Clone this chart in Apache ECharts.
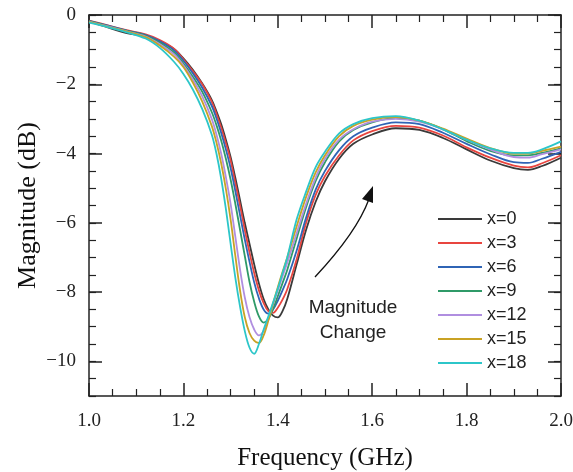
<!DOCTYPE html>
<html>
<head>
<meta charset="utf-8">
<script src="https://cdn.jsdelivr.net/npm/echarts@6/dist/echarts.min.js"></script>
<style>
  html, body { margin: 0; padding: 0; background: #fff; }
  #main { width: 573px; height: 472px; }
</style>
</head>
<body>
<div id="main"></div>
<script>
// frequency grid (GHz)
const freq = [1.00, 1.04, 1.08, 1.12, 1.15, 1.18, 1.20, 1.22, 1.24, 1.26, 1.27, 1.28, 1.29, 1.30, 1.31, 1.32, 1.33, 1.34, 1.35, 1.36, 1.37, 1.38, 1.39, 1.40, 1.41, 1.42, 1.44, 1.46, 1.48, 1.50, 1.53, 1.56, 1.60, 1.65, 1.70, 1.75, 1.80, 1.85, 1.90, 1.93, 1.96, 2.00];

// magnitude (dB) per x value
const magX0 = [-0.18, -0.36, -0.52, -0.62, -0.76, -0.98, -1.25, -1.58, -1.98, -2.45, -2.78, -3.15, -3.60, -4.10, -4.70, -5.35, -6.00, -6.60, -7.20, -7.75, -8.20, -8.50, -8.68, -8.73, -8.55, -8.20, -7.20, -6.20, -5.40, -4.80, -4.15, -3.72, -3.45, -3.27, -3.32, -3.55, -3.88, -4.20, -4.42, -4.47, -4.36, -4.12];
const magX3 = [-0.16, -0.30, -0.44, -0.56, -0.72, -0.97, -1.28, -1.62, -2.00, -2.50, -2.85, -3.25, -3.70, -4.20, -4.85, -5.50, -6.20, -6.85, -7.45, -7.95, -8.32, -8.55, -8.60, -8.45, -8.22, -7.92, -7.05, -6.00, -5.20, -4.65, -4.05, -3.62, -3.35, -3.20, -3.25, -3.48, -3.82, -4.12, -4.35, -4.40, -4.28, -4.05];
const magX6 = [-0.17, -0.31, -0.45, -0.58, -0.76, -1.02, -1.32, -1.68, -2.10, -2.62, -2.98, -3.40, -3.88, -4.42, -5.08, -5.78, -6.48, -7.12, -7.72, -8.18, -8.50, -8.62, -8.50, -8.25, -7.95, -7.62, -6.80, -5.85, -5.05, -4.50, -3.90, -3.50, -3.25, -3.10, -3.15, -3.40, -3.72, -4.02, -4.25, -4.27, -4.15, -3.95];
const magX9 = [-0.18, -0.32, -0.46, -0.60, -0.80, -1.08, -1.40, -1.78, -2.22, -2.80, -3.18, -3.62, -4.15, -4.75, -5.45, -6.20, -6.95, -7.70, -8.28, -8.70, -8.88, -8.78, -8.48, -8.12, -7.74, -7.36, -6.45, -5.55, -4.80, -4.25, -3.65, -3.32, -3.10, -2.98, -3.05, -3.30, -3.64, -3.92, -4.05, -4.05, -3.98, -3.85];
const magX12 = [-0.19, -0.33, -0.47, -0.62, -0.84, -1.13, -1.45, -1.86, -2.35, -3.00, -3.45, -4.00, -4.68, -5.45, -6.40, -7.35, -8.15, -8.72, -9.08, -9.25, -9.12, -8.78, -8.36, -7.95, -7.55, -7.15, -6.30, -5.45, -4.70, -4.15, -3.60, -3.30, -3.08, -3.00, -3.08, -3.30, -3.60, -3.88, -4.10, -4.12, -4.02, -3.88];
const magX15 = [-0.20, -0.34, -0.48, -0.64, -0.88, -1.20, -1.50, -1.95, -2.50, -3.20, -3.68, -4.28, -5.02, -5.90, -6.95, -7.95, -8.72, -9.18, -9.40, -9.47, -9.25, -8.82, -8.32, -7.86, -7.42, -7.00, -6.10, -5.25, -4.55, -4.05, -3.50, -3.20, -3.02, -2.95, -3.05, -3.28, -3.57, -3.84, -4.00, -4.00, -3.92, -3.80];
const magX18 = [-0.22, -0.35, -0.50, -0.68, -0.95, -1.35, -1.70, -2.15, -2.72, -3.45, -4.00, -4.72, -5.60, -6.60, -7.58, -8.42, -9.12, -9.60, -9.78, -9.50, -9.08, -8.70, -8.30, -7.90, -7.45, -7.00, -5.90, -5.10, -4.40, -3.95, -3.42, -3.15, -2.98, -2.92, -3.05, -3.30, -3.60, -3.85, -3.98, -3.98, -3.88, -3.65];

const seriesNames = ['x=0', 'x=3', 'x=6', 'x=9', 'x=12', 'x=15', 'x=18'];
const seriesData = [magX0, magX3, magX6, magX9, magX12, magX15, magX18];
const colors = ['#3a3a3a', '#e8453f', '#2f64b5', '#2f9a68', '#b08ee0', '#c9a224', '#2cc6c9'];

// tick labels
const yMajorTicks = [-10, -8, -6, -4, -2, 0];

const chart = echarts.init(document.getElementById('main'));

const serif = 'Liberation Serif';
const sans = 'Liberation Sans';
const axisColor = '#222';

// x axis shared bits
const xBase = {
  type: 'value',
  min: 1.0,
  max: 2.0,
  interval: 0.2,
  axisLine: { show: true, onZero: false, lineStyle: { color: axisColor, width: 1.5 } },
  axisTick: { show: true, inside: true, length: 13, lineStyle: { color: axisColor, width: 1.5 } },
  minorTick: { show: true, splitNumber: 4, length: 7, lineStyle: { color: axisColor, width: 1.2 } },
  splitLine: { show: false }
};

// y axis: short ticks every 0.5
const yMinor = {
  type: 'value',
  min: -11,
  max: 0,
  interval: 0.5,
  axisLine: { show: true, onZero: false, lineStyle: { color: axisColor, width: 1.5 } },
  axisTick: { show: true, inside: true, length: 7, lineStyle: { color: axisColor, width: 1.2 } },
  axisLabel: { show: false },
  splitLine: { show: false }
};
// y axis: long ticks at even values
const yMajor = {
  type: 'value',
  min: -11,
  max: 0,
  axisLine: { show: false },
  axisTick: { show: true, inside: true, length: 13, customValues: yMajorTicks, lineStyle: { color: axisColor, width: 1.5 } },
  axisLabel: { show: false },
  splitLine: { show: false }
};

const option = {
  backgroundColor: '#fff',
  animation: false,
  color: colors,
  grid: { left: 89, right: 12, top: 15, bottom: 76, outerBoundsMode: 'none' },
  legend: {
    orient: 'vertical',
    left: 433,
    top: 205,
    icon: 'rect',
    itemWidth: 44,
    itemHeight: 2,
    itemGap: 6,
    textStyle: { fontFamily: sans, fontSize: 18, color: '#222', lineHeight: 18 },
    data: seriesNames
  },
  xAxis: [
    Object.assign({}, xBase, {
      position: 'bottom',
      name: 'Frequency (GHz)',
      nameLocation: 'middle',
      nameGap: 50,
      nameTextStyle: { fontFamily: serif, fontSize: 25, color: '#111' },
      axisLabel: {
        show: true, margin: 16, fontFamily: serif, fontSize: 19, color: '#222',
        formatter: v => v.toFixed(1)
      }
    }),
    Object.assign({}, xBase, { position: 'top', axisLabel: { show: false } })
  ],
  yAxis: [
    Object.assign({}, yMinor, {
      position: 'left',
      name: 'Magnitude (dB)',
      nameLocation: 'middle',
      nameGap: 48,
      nameTextStyle: { fontFamily: serif, fontSize: 26, color: '#111' }
    }),
    Object.assign({}, yMajor, {
      position: 'left',
      axisLabel: {
        show: true, margin: 13, customValues: yMajorTicks,
        fontFamily: serif, fontSize: 19, color: '#222',
        formatter: v => (v < 0 ? '\u2212' + Math.abs(v) : String(v))
      }
    }),
    Object.assign({}, yMinor, { position: 'right' }),
    Object.assign({}, yMajor, { position: 'right' })
  ],
  series: seriesNames.map((name, i) => ({
    name: name,
    type: 'line',
    xAxisIndex: 0,
    yAxisIndex: 0,
    smooth: 0.35,
    showSymbol: false,
    symbol: 'none',
    lineStyle: { width: 1.8, color: colors[i] },
    itemStyle: { color: colors[i] },
    data: freq.map((f, j) => [f, seriesData[i][j]])
  })),
  graphic: [
    // annotation arrow
    {
      type: 'bezierCurve',
      shape: { x1: 315, y1: 277, x2: 369, y2: 199, cpx1: 357, cpy1: 232 },
      style: { stroke: '#111', lineWidth: 1.3, fill: null }
    },
    {
      type: 'polygon',
      shape: { points: [[373, 186], [362, 199], [373, 203]] },
      style: { fill: '#111' }
    },
    {
      type: 'text',
      x: 353,
      y: 320,
      style: {
        text: 'Magnitude\nChange',
        fontFamily: sans,
        fontSize: 19,
        lineHeight: 25,
        fill: '#222',
        align: 'center',
        verticalAlign: 'middle'
      }
    }
  ]
};

chart.setOption(option);
</script>
</body>
</html>
